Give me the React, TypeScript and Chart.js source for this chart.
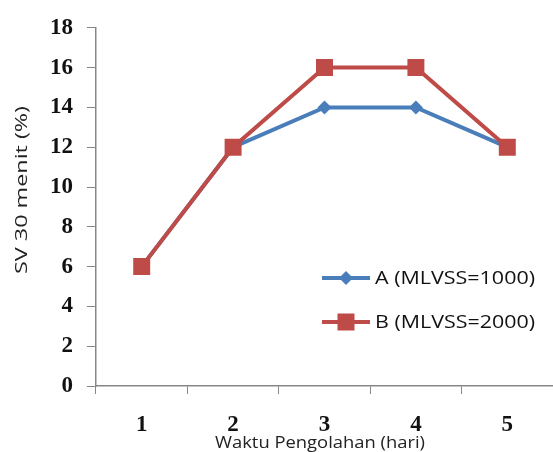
import React, { useEffect, useRef } from "react";
import { Chart, registerables } from "chart.js";

Chart.register(...registerables);

const categories = ["1", "2", "3", "4", "5"];
const seriesA = [6, 12, 14, 14, 12];
const seriesB = [6, 12, 16, 16, 12];
const seriesALabel = "A (MLVSS=1000)";
const seriesBLabel = "B (MLVSS=2000)";
const yTitle = "SV 30 menit (%)";
const xTitle = "Waktu Pengolahan (hari)";

const BLUE = "#4A7EBB";
const RED = "#BE4B48";
const AXIS = "#878787";
const SANS = "'Open Sans', 'Noto Sans', sans-serif";
const SERIF = "'Liberation Serif', 'DejaVu Serif', serif";

function fitText(ctx: any, text: string, x: number, y: number, width: number, align: "left" | "center") {
  const w = ctx.measureText(text).width;
  const s = width / w;
  ctx.save();
  ctx.translate(x, y);
  ctx.scale(s, 1);
  ctx.textAlign = align;
  ctx.fillText(text, 0, 0);
  ctx.restore();
}

const overlayPlugin = {
  id: "overlay",
  afterDraw(chart: any) {
    const ctx = chart.ctx;
    ctx.save();
    ctx.fillStyle = "#222";
    ctx.textBaseline = "middle";
    // y title
    ctx.font = `16px ${SANS}`;
    ctx.save();
    ctx.translate(22, 190);
    ctx.rotate(-Math.PI / 2);
    fitText(ctx, yTitle, 0, 0, 168, "center");
    ctx.restore();
    // x title
    ctx.font = `16px ${SANS}`;
    fitText(ctx, xTitle, 320, 443, 210, "center");

    // legend
    const items = [
      { label: seriesALabel, color: BLUE, style: "diamond", y: 278 },
      { label: seriesBLabel, color: RED, style: "square", y: 322 },
    ];
    for (const it of items) {
      ctx.strokeStyle = it.color;
      ctx.lineWidth = 4;
      ctx.beginPath();
      ctx.moveTo(322, it.y);
      ctx.lineTo(370, it.y);
      ctx.stroke();
      ctx.fillStyle = it.color;
      const cx = 346;
      if (it.style === "diamond") {
        ctx.beginPath();
        ctx.moveTo(cx, it.y - 7);
        ctx.lineTo(cx + 7, it.y);
        ctx.lineTo(cx, it.y + 7);
        ctx.lineTo(cx - 7, it.y);
        ctx.closePath();
        ctx.fill();
      } else {
        ctx.fillRect(cx - 8.5, it.y - 8.5, 17, 17);
      }
      ctx.fillStyle = "#111";
      ctx.font = `18px ${SANS}`;
      fitText(ctx, it.label, 375, it.y + 1, 160, "left");
    }
    ctx.restore();
  },
};

export default function App() {
  const ref = useRef<HTMLCanvasElement | null>(null);
  useEffect(() => {
    document.body.style.margin = "0";
    const chart = new Chart(ref.current as HTMLCanvasElement, {
      type: "line",
      data: {
        labels: categories,
        datasets: [
          {
            label: seriesALabel,
            data: seriesA,
            borderColor: BLUE,
            backgroundColor: BLUE,
            borderWidth: 4,
            pointStyle: "rectRot",
            pointRadius: 7,
            pointBorderWidth: 0,
            order: 2,
          },
          {
            label: seriesBLabel,
            data: seriesB,
            borderColor: RED,
            backgroundColor: RED,
            borderWidth: 4,
            pointStyle: "rect",
            pointRadius: 12,
            pointBorderWidth: 0,
            order: 1,
          },
        ],
      },
      options: {
        animation: false,
        responsive: false,
        layout: { autoPadding: false, padding: { top: 25, right: 0, left: 0, bottom: 0 } },
        plugins: { legend: { display: false }, tooltip: { enabled: false } },
        scales: {
          x: {
            offset: true,
            grid: {
              offset: true,
              drawOnChartArea: false,
              tickLength: 8,
              color: AXIS,
              lineWidth: 1,
            },
            border: { color: AXIS, width: 1.5 },
            ticks: {
              color: "#111",
              font: { family: SERIF, size: 23, weight: "bold" },
              padding: 17,
            },
            afterFit(scale: any) {
              scale.height = 66;
            },
          },
          y: {
            min: 0,
            max: 18,
            ticks: {
              stepSize: 2,
              color: "#111",
              font: { family: SERIF, size: 23, weight: "bold" },
              padding: 14,
            },
            grid: {
              drawOnChartArea: false,
              tickLength: 9,
              color: AXIS,
              lineWidth: 1,
            },
            border: { color: AXIS, width: 1.5 },
            afterFit(scale: any) {
              scale.width = 96;
            },
          },
        },
      },
      plugins: [overlayPlugin],
    } as any);
    return () => chart.destroy();
  }, []);
  return (
    <div style={{ width: 553, height: 452 }}>
      <canvas ref={ref} width={553} height={452} style={{ width: 553, height: 452 }} />
    </div>
  );
}
